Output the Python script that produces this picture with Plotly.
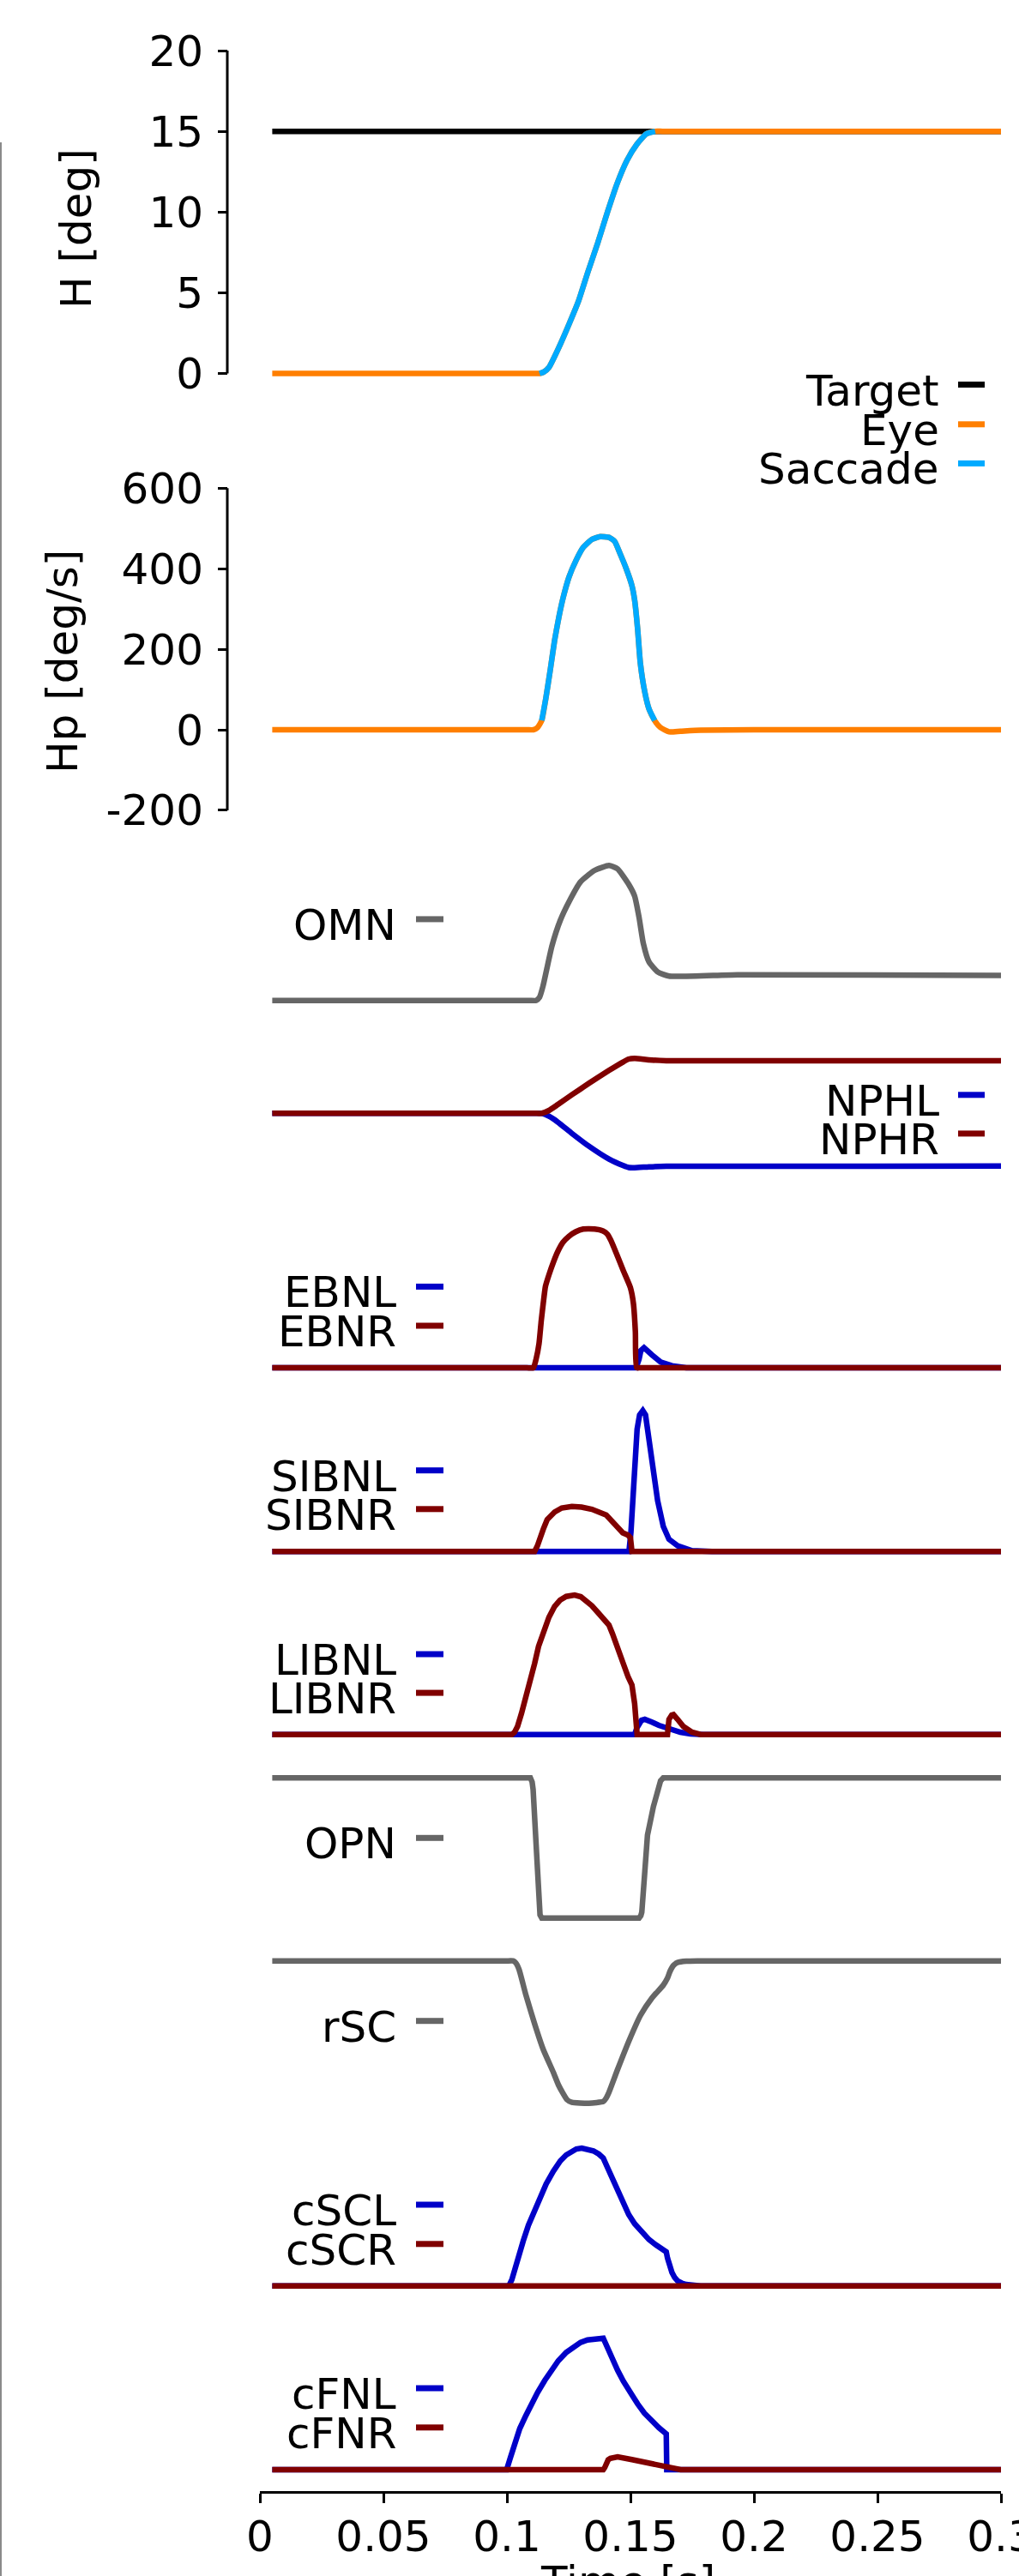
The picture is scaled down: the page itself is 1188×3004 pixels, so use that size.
import plotly.graph_objects as go

W, H = 1188, 3004
FAM = "DejaVu Sans"
FS = 50

# ------------------------------------------------------------------ data
time_ticks = [0, 0.05, 0.1, 0.15, 0.2, 0.25, 0.3]
time_tick_labels = ["0", "0.05", "0.1", "0.15", "0.2", "0.25", "0.3"]
h_ticks = [0, 5, 10, 15, 20]
h_tick_labels = ["0", "5", "10", "15", "20"]
hp_ticks = [-200, 0, 200, 400, 600]
hp_tick_labels = ["-200", "0", "200", "400", "600"]

# Panel 1 : horizontal position [deg]
target_t = [0.005, 0.300]
target_h = [15.0, 15.0]
eye_t = [0.005, 0.1100, 0.1132, 0.1150, 0.1170, 0.1210, 0.1250, 0.1289, 0.1328, 0.1368,
         0.1407, 0.1447, 0.1486, 0.1526, 0.1565, 0.1600, 0.1630, 0.300]
eye_h = [0.0, 0.0, 0.0, 0.1, 0.37, 1.6, 3.0, 4.45, 6.3, 8.1,
         10.0, 11.8, 13.2, 14.2, 14.85, 15.0, 15.0, 15.0]
sac_t = [0.1132, 0.1150, 0.1170, 0.1210, 0.1250, 0.1289, 0.1328, 0.1368,
         0.1407, 0.1447, 0.1486, 0.1526, 0.1565, 0.1600]
sac_h = [0.0, 0.1, 0.37, 1.6, 3.0, 4.45, 6.3, 8.1,
         10.0, 11.8, 13.2, 14.2, 14.85, 15.0]

# Panel 2 : horizontal velocity [deg/s]
eyev_t = [0.005, 0.1080, 0.1107, 0.1124, 0.1141, 0.1158, 0.1176, 0.1193, 0.1210, 0.1228,
          0.1251, 0.1280, 0.1309, 0.1344, 0.1378, 0.1413, 0.1436, 0.1459, 0.1483,
          0.1506, 0.1517, 0.1529, 0.1540, 0.1558, 0.1575, 0.1598, 0.1621, 0.1656,
          0.1702, 0.1784, 0.2200, 0.300]
eyev_v = [0, 0, 0, 5.7, 23, 80, 151, 222, 279, 329,
          379, 421, 453, 473, 480, 478, 468, 436, 400,
          358, 322, 251, 166, 94, 52, 23, 5.7, -5,
          -3.6, -1, 0, 0]
sacv_t = [0.1141, 0.1158, 0.1176, 0.1193, 0.1210, 0.1228, 0.1251, 0.1280, 0.1309,
          0.1344, 0.1378, 0.1413, 0.1436, 0.1459, 0.1483, 0.1506, 0.1517, 0.1529,
          0.1540, 0.1558, 0.1575, 0.1598]
sacv_v = [23, 80, 151, 222, 279, 329, 379, 421, 453,
          473, 480, 478, 468, 436, 400, 358, 322, 251,
          166, 94, 52, 23]

# Neural populations (arbitrary units)
omn_t = [0.005, 0.1090, 0.1118, 0.1132, 0.1146, 0.1182, 0.1216, 0.1251, 0.1298, 0.1355, 0.1413,
         0.1448, 0.1494, 0.1517, 0.1535, 0.1552, 0.1575, 0.1610, 0.1656, 0.1934, 0.300]
omn_v = [0.0, 0.0, 0.0, 0.037, 0.167, 0.634, 0.934, 1.15, 1.384, 1.517, 1.574,
         1.534, 1.35, 1.217, 0.967, 0.667, 0.45, 0.334, 0.284, 0.30, 0.292]

nphl_t = [0.005, 0.1110, 0.1141, 0.1170, 0.1205, 0.1263, 0.1332, 0.1413, 0.1471, 0.1493,
          0.1517, 0.1575, 0.1645, 0.300]
nphl_v = [0.0, 0.0, 0.0, -0.034, -0.10, -0.234, -0.384, -0.534, -0.61, -0.632,
          -0.634, -0.624, -0.617, -0.615]
nphr_t = [0.005, 0.1110, 0.1141, 0.1170, 0.1205, 0.1263, 0.1332, 0.1413, 0.1471, 0.1493,
          0.1517, 0.1575, 0.1645, 0.300]
nphr_v = [0.0, 0.0, 0.0, 0.033, 0.10, 0.216, 0.35, 0.50, 0.60, 0.633,
          0.64, 0.623, 0.613, 0.613]

ebnl_t = [0.005, 0.1523, 0.1535, 0.1542, 0.1555, 0.1566, 0.1587, 0.1622, 0.1668, 0.1726, 0.300]
ebnl_v = [0.0, 0.0, 0.10, 0.20, 0.233, 0.21, 0.15, 0.067, 0.023, 0.0, 0.0]
ebnr_t = [0.005, 0.1080, 0.1107, 0.1118, 0.1130, 0.1139, 0.1147, 0.1156, 0.1170, 0.1188, 0.1205,
          0.1226, 0.1251, 0.1278, 0.1309, 0.1355, 0.1389, 0.1407, 0.1420, 0.1436, 0.1471,
          0.1500, 0.1512, 0.1520, 0.1525, 0.1540, 0.300]
ebnr_v = [0.0, 0.0, 0.0, 0.10, 0.283, 0.55, 0.75, 0.95, 1.083, 1.23, 1.35,
          1.46, 1.533, 1.585, 1.617, 1.617, 1.595, 1.557, 1.49, 1.383, 1.133,
          0.933, 0.75, 0.417, 0.0, 0.0, 0.0]

sibnl_t = [0.005, 0.1494, 0.1502, 0.1509, 0.1517, 0.1527, 0.1537, 0.1550, 0.1561, 0.1573,
           0.1587, 0.1598, 0.1610, 0.1633, 0.1656, 0.1691, 0.1749, 0.1830, 0.300]
sibnl_v = [0.0, 0.0, 0.226, 0.626, 1.06, 1.426, 1.593, 1.643, 1.593, 1.36,
           1.06, 0.81, 0.593, 0.293, 0.143, 0.066, 0.01, 0.0, 0.0]
sibnr_t = [0.005, 0.1112, 0.1123, 0.1135, 0.1147, 0.1163, 0.1193, 0.1222, 0.1263, 0.1302,
           0.1344, 0.1402, 0.1424, 0.1448, 0.1469, 0.1489, 0.1500, 0.1506, 0.300]
sibnr_v = [0.0, 0.0, 0.063, 0.173, 0.26, 0.373, 0.46, 0.508, 0.526, 0.518,
           0.493, 0.426, 0.363, 0.276, 0.218, 0.193, 0.16, 0.0, 0.0]

libnl_t = [0.005, 0.1517, 0.1526, 0.1535, 0.1545, 0.1558, 0.1573, 0.1587, 0.1615, 0.1645,
           0.1674, 0.1702, 0.1743, 0.1795, 0.300]
libnl_v = [0.0, 0.0, 0.077, 0.127, 0.167, 0.177, 0.167, 0.144, 0.107, 0.077,
           0.047, 0.027, 0.007, 0.0, 0.0]
libnr_t = [0.005, 0.1020, 0.1031, 0.1043, 0.1059, 0.1077, 0.1094, 0.1112, 0.1128, 0.1147,
           0.1170, 0.1193, 0.1215, 0.1240, 0.1274, 0.1299, 0.1321, 0.1344, 0.1367, 0.1389,
           0.1413, 0.1427, 0.1444, 0.1471, 0.1490, 0.1506, 0.1517, 0.1527, 0.1650, 0.1656,
           0.1667, 0.1674, 0.1691, 0.1714, 0.1749, 0.1784, 0.300]
libnr_v = [0.0, 0.0, 0.027, 0.094, 0.247, 0.427, 0.627, 0.827, 1.027, 1.194,
           1.367, 1.494, 1.567, 1.61, 1.627, 1.607, 1.56, 1.502, 1.427, 1.357,
           1.277, 1.177, 1.027, 0.827, 0.677, 0.577, 0.36, 0.0, 0.0, 0.177,
           0.227, 0.232, 0.177, 0.094, 0.027, 0.0, 0.0]

opn_t = [0.005, 0.1095, 0.1102, 0.1106, 0.1118, 0.1130, 0.1134, 0.1141, 0.1535, 0.1542,
         0.1546, 0.1558, 0.1569, 0.1593, 0.1622, 0.1633, 0.300]
opn_v = [1.634, 1.634, 1.587, 1.50, 0.867, 0.20, 0.037, 0.0, 0.0, 0.027,
         0.067, 0.534, 0.967, 1.30, 1.60, 1.634, 1.634]

rsc_t = [0.005, 0.0995, 0.1025, 0.1036, 0.1049, 0.1077, 0.1112, 0.1147, 0.1188, 0.1208, 0.1228,
         0.1243, 0.1263, 0.1332, 0.1390, 0.1401, 0.1413, 0.1448, 0.1494, 0.1541, 0.1587,
         0.1633, 0.1650, 0.1660, 0.1674, 0.1691, 0.1726, 0.1772, 0.300]
rsc_v = [1.66, 1.66, 1.66, 1.637, 1.56, 1.26, 0.927, 0.627, 0.36, 0.217, 0.11,
         0.042, 0.01, 0.0, 0.02, 0.057, 0.127, 0.394, 0.727, 1.027, 1.227,
         1.377, 1.46, 1.537, 1.607, 1.642, 1.657, 1.66, 1.66]

cscl_t = [0.005, 0.1008, 0.1020, 0.1031, 0.1049, 0.1066, 0.1087, 0.1112, 0.1135, 0.1159,
          0.1188, 0.1216, 0.1240, 0.1263, 0.1281, 0.1303, 0.1326, 0.1350, 0.1372, 0.1390,
          0.1406, 0.1425, 0.1448, 0.1471, 0.1493, 0.1517, 0.1545, 0.1575, 0.1604, 0.1639,
          0.1645, 0.1650, 0.1658, 0.1668, 0.1679, 0.1691, 0.1708, 0.1726, 0.1784, 0.300]
cscl_v = [0.0, 0.0, 0.074, 0.197, 0.377, 0.524, 0.707, 0.89, 1.047, 1.19,
          1.337, 1.457, 1.527, 1.574, 1.597, 1.607, 1.597, 1.574, 1.537, 1.49,
          1.387, 1.257, 1.107, 0.957, 0.832, 0.724, 0.627, 0.54, 0.477, 0.424,
          0.397, 0.324, 0.237, 0.157, 0.097, 0.057, 0.032, 0.017, 0.0, 0.0]
cscr_t = [0.005, 0.100, 0.200, 0.300]
cscr_v = [0.0, 0.0, 0.0, 0.0]

cfnl_t = [0.005, 0.0999, 0.1014, 0.1031, 0.1052, 0.1077, 0.1101, 0.1124, 0.1153, 0.1182,
          0.1208, 0.1240, 0.1267, 0.1298, 0.1326, 0.1355, 0.1390, 0.1406, 0.1425, 0.1448,
          0.1471, 0.1500, 0.1529, 0.1556, 0.1587, 0.1615, 0.1645, 0.1647, 0.300]
cfnl_v = [0.0, 0.0, 0.14, 0.30, 0.48, 0.633, 0.78, 0.90, 1.04, 1.167,
          1.27, 1.367, 1.43, 1.483, 1.513, 1.527, 1.533, 1.43, 1.30, 1.16,
          1.033, 0.89, 0.767, 0.66, 0.567, 0.49, 0.417, 0.0, 0.0]
cfnr_t = [0.005, 0.1390, 0.1396, 0.1402, 0.1410, 0.1419, 0.1434, 0.1448, 0.1506, 0.1564,
          0.1633, 0.1649, 0.1668, 0.1703, 0.300]
cfnr_v = [0.0, 0.0, 0.025, 0.067, 0.115, 0.133, 0.147, 0.15, 0.117, 0.083,
          0.05, 0.035, 0.017, 0.0, 0.0]

# ------------------------------------------------------------------ styles
BLACK = "#000000"
ORANGE = "#ff7f00"
SKY = "#00aaff"
GRAY = "#666666"
BLUE = "#0000c8"
RED = "#800000"
LW = 6.5

X0_PX, X1_PX = 303, 1167        # x-axis domain in pixels
SPINE_X = 265                   # offset y spine

# per panel: baseline px, px per unit, domain top px, domain bottom px
# series entries: (t, values, colour, smooth?)
panels = [
    dict(B=435.5, S=18.825, top=35, bot=462,
         series=[(target_t, target_h, BLACK, False), (eye_t, eye_h, ORANGE, True),
                 (sac_t, sac_h, SKY, True)]),
    dict(B=851.0, S=0.4694, top=555, bot=962,
         series=[(eyev_t, eyev_v, ORANGE, True), (sacv_t, sacv_v, SKY, True)]),
    dict(B=1166.7, S=100, top=990, bot=1185, series=[(omn_t, omn_v, GRAY, True)]),
    dict(B=1298.3, S=100, top=1215, bot=1380,
         series=[(nphl_t, nphl_v, BLUE, True), (nphr_t, nphr_v, RED, True)]),
    dict(B=1595.0, S=100, top=1415, bot=1610,
         series=[(ebnl_t, ebnl_v, BLUE, False), (ebnr_t, ebnr_v, RED, True)]),
    dict(B=1809.3, S=100, top=1630, bot=1825,
         series=[(sibnl_t, sibnl_v, BLUE, False), (sibnr_t, sibnr_v, RED, False)]),
    dict(B=2022.7, S=100, top=1845, bot=2038,
         series=[(libnl_t, libnl_v, BLUE, False), (libnr_t, libnr_v, RED, False)]),
    dict(B=2236.7, S=100, top=2058, bot=2252, series=[(opn_t, opn_v, GRAY, False)]),
    dict(B=2452.7, S=100, top=2272, bot=2468, series=[(rsc_t, rsc_v, GRAY, True)]),
    dict(B=2665.7, S=100, top=2490, bot=2681,
         series=[(cscl_t, cscl_v, BLUE, False), (cscr_t, cscr_v, RED, False)]),
    dict(B=2880.0, S=100, top=2705, bot=2905,
         series=[(cfnl_t, cfnl_v, BLUE, False), (cfnr_t, cfnr_v, RED, False)]),
]


def fx(px):
    return px / W


def fy(py):
    return 1 - py / H


fig = go.Figure()
layout = dict(
    width=W, height=H, autosize=False,
    margin=dict(l=0, r=0, t=0, b=0, pad=0, autoexpand=False),
    paper_bgcolor="white", plot_bgcolor="rgba(0,0,0,0)",
    showlegend=False, font=dict(family=FAM, size=FS, color="black"),
)

n = len(panels)
for i, p in enumerate(panels):
    k = "" if i == 0 else str(i + 1)
    xa, ya = "x" + k, "y" + k
    for t, v, c, smooth in p["series"]:
        line = dict(color=c, width=LW)
        if smooth:
            line.update(shape="spline", smoothing=0.5)
        fig.add_trace(go.Scatter(x=t, y=v, mode="lines", xaxis=xa, yaxis=ya,
                                 line=line, hoverinfo="skip"))
    yr = [(p["B"] - p["bot"]) / p["S"], (p["B"] - p["top"]) / p["S"]]
    xax = dict(domain=[fx(X0_PX), fx(X1_PX)], range=[0, 0.3], anchor=ya,
               showgrid=False, zeroline=False, automargin=False)
    if i == n - 1:
        xax.update(visible=True, showline=True, linewidth=3, linecolor="black",
                   ticks="outside", ticklen=11, tickwidth=3, tickcolor="black",
                   tickvals=time_ticks, ticktext=time_tick_labels,
                   tickfont=dict(family=FAM, size=FS, color="black"),
                   ticklabelstandoff=-4, ticklabeloverflow="allow")
    else:
        xax.update(visible=False)
    yax = dict(domain=[fy(p["bot"]), fy(p["top"])], range=yr,
               showgrid=False, zeroline=False, showline=False, automargin=False)
    if i < 2:
        yax.update(anchor="free", position=fx(SPINE_X), ticks="outside", ticklen=11,
                   tickwidth=3, tickcolor="black",
                   tickvals=h_ticks if i == 0 else hp_ticks,
                   ticktext=h_tick_labels if i == 0 else hp_tick_labels,
                   tickfont=dict(family=FAM, size=FS, color="black"),
                   ticklabelstandoff=7, ticklabeloverflow="allow")
    else:
        yax.update(visible=False, anchor=xa)
    layout["xaxis" + k] = xax
    layout["yaxis" + k] = yax

shapes = []
# offset spines of the two labelled panels
shapes.append(dict(type="line", xref="paper", yref="y", x0=fx(SPINE_X), x1=fx(SPINE_X),
                   y0=h_ticks[0], y1=h_ticks[-1], line=dict(color="black", width=3)))
shapes.append(dict(type="line", xref="paper", yref="y2", x0=fx(SPINE_X), x1=fx(SPINE_X),
                   y0=hp_ticks[0], y1=hp_ticks[-1], line=dict(color="black", width=3)))
# thin frame line at the left edge
shapes.append(dict(type="line", xref="paper", yref="paper", x0=fx(1), x1=fx(1),
                   y0=fy(166), y1=0, line=dict(color="#8a8a8a", width=2)))

annotations = []
# legends: (label, color, column, handle y px)
legend_items = [
    ("Target", BLACK, "R", 448.5), ("Eye", ORANGE, "R", 494.8), ("Saccade", SKY, "R", 540.4),
    ("OMN", GRAY, "L", 1071.9),
    ("NPHL", BLUE, "R", 1276.8), ("NPHR", RED, "R", 1321.9),
    ("EBNL", BLUE, "L", 1500.4), ("EBNR", RED, "L", 1546.0),
    ("SIBNL", BLUE, "L", 1714.7), ("SIBNR", RED, "L", 1759.8),
    ("LIBNL", BLUE, "L", 1929.0), ("LIBNR", RED, "L", 1974.1),
    ("OPN", GRAY, "L", 2143.3),
    ("rSC", GRAY, "L", 2356.7),
    ("cSCL", BLUE, "L", 2571.0), ("cSCR", RED, "L", 2616.8),
    ("cFNL", BLUE, "L", 2785.0), ("cFNR", RED, "L", 2830.8),
]
for label, col, side, hy in legend_items:
    if side == "L":
        tx, h0, h1 = 464, 485, 517
    else:
        tx, h0, h1 = 1097, 1117, 1148
    shapes.append(dict(type="line", xref="paper", yref="paper", x0=fx(h0), x1=fx(h1),
                       y0=fy(hy), y1=fy(hy), line=dict(color=col, width=7)))
    annotations.append(dict(text=label, xref="paper", yref="paper", x=fx(tx), y=fy(hy + 7),
                            xanchor="right", yanchor="middle", showarrow=False,
                            font=dict(family=FAM, size=FS, color="black")))

# axis titles
annotations.append(dict(text="H [deg]", xref="paper", yref="paper", x=fx(89), y=fy(267),
                        textangle=-90, xanchor="center", yanchor="middle", showarrow=False,
                        font=dict(family=FAM, size=FS, color="black")))
annotations.append(dict(text="Hp [deg/s]", xref="paper", yref="paper", x=fx(73), y=fy(772),
                        textangle=-90, xanchor="center", yanchor="middle", showarrow=False,
                        font=dict(family=FAM, size=FS, color="black")))
annotations.append(dict(text="Time [s]", xref="paper", yref="paper", x=fx(732), y=fy(2980),
                        xanchor="center", yanchor="top", showarrow=False,
                        font=dict(family=FAM, size=FS, color="black")))

layout["shapes"] = shapes
layout["annotations"] = annotations
fig.update_layout(**layout)
fig.write_html("out.html")
